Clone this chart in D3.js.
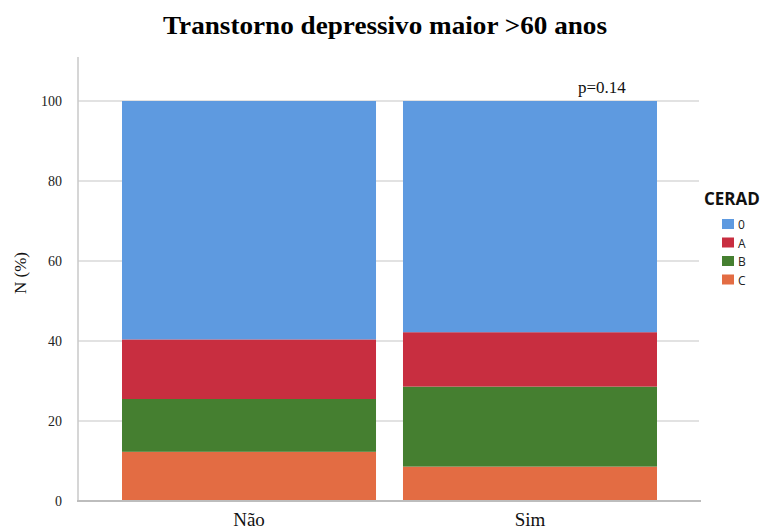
<!DOCTYPE html>
<html><head><meta charset="utf-8">
<script src="https://cdn.jsdelivr.net/npm/d3@7"></script>
<style>body{margin:0;background:#fff}</style>
</head><body>
<svg id="c" width="769" height="529"></svg>
<script>
const categories = ["Não", "Sim"];
const cerad = ["C", "B", "A", "0"];
const valuesC = [12.3, 8.6];
const valuesB = [13.2, 20.0];
const valuesA = [14.9, 13.6];
const values0 = [59.6, 57.8];
const yTicks = [0, 20, 40, 60, 80, 100];
const legendOrder = ["0", "A", "B", "C"];
const colors = {"0": "#5e9ae0", "A": "#c82e40", "B": "#457f30", "C": "#e36c43"};

const svg = d3.select("#c");
const y = d3.scaleLinear().domain([0, 110]).range([501, 61]);
const x = d3.scaleBand().domain(categories).range([122, 657]).paddingInner(0.096).paddingOuter(0);

// gridlines
svg.append("g").selectAll("line").data(yTicks.filter(d => d > 0)).join("line")
  .attr("x1", 78).attr("x2", 699).attr("y1", d => y(d)).attr("y2", d => y(d))
  .attr("stroke", "#d9d9d9").attr("stroke-width", 1.5);

const rows = categories.map((c, i) => ({cat: c, C: valuesC[i], B: valuesB[i], A: valuesA[i], "0": values0[i]}));
const stack = d3.stack().keys(cerad)(rows);
svg.append("g").selectAll("g").data(stack).join("g")
  .attr("fill", d => colors[d.key])
  .selectAll("rect").data(d => d).join("rect")
  .attr("x", d => x(d.data.cat)).attr("width", x.bandwidth())
  .attr("y", d => y(d[1])).attr("height", d => y(d[0]) - y(d[1]));

// axes lines
svg.append("line").attr("x1", 78).attr("x2", 78).attr("y1", 57).attr("y2", 501)
  .attr("stroke", "#c8c8c8").attr("stroke-width", 1.5);
svg.append("line").attr("x1", 77).attr("x2", 701).attr("y1", 501).attr("y2", 501)
  .attr("stroke", "#bdbdbd").attr("stroke-width", 2);

const yAxis = d3.axisLeft(y).tickValues(yTicks).tickSize(0).tickPadding(16);
const ga = svg.append("g").attr("transform", "translate(78,0)").call(yAxis);
ga.select(".domain").remove();
ga.selectAll("text").attr("font-family", "Liberation Serif").attr("font-size", 14).attr("fill", "#222");

const xAxis = d3.axisBottom(x).tickSize(0).tickPadding(12);
const gx = svg.append("g").attr("transform", "translate(0,501)").call(xAxis);
gx.select(".domain").remove();
gx.selectAll("text").attr("font-family", "Liberation Serif").attr("font-size", 19).attr("fill", "#111");

svg.append("text").attr("x", 385).attr("y", 34).attr("text-anchor", "middle")
  .attr("font-family", "Liberation Serif").attr("font-weight", "bold").attr("font-size", 25)
  .attr("textLength", 444).attr("lengthAdjust", "spacingAndGlyphs")
  .text("Transtorno depressivo maior >60 anos");

svg.append("text").attr("transform", "translate(26,273) rotate(-90)").attr("text-anchor", "middle")
  .attr("font-family", "Liberation Serif").attr("font-size", 17).attr("fill", "#111").text("N (%)");

svg.append("text").attr("x", 578).attr("y", 93)
  .attr("font-family", "Liberation Serif").attr("font-size", 17).attr("fill", "#111").text("p=0.14");

svg.append("text").attr("x", 704).attr("y", 205)
  .attr("font-family", "Open Sans").attr("font-weight", "bold").attr("font-size", 17).attr("fill", "#111").text("CERAD");

const lg = svg.append("g").selectAll("g").data(legendOrder).join("g")
  .attr("transform", (d, i) => `translate(722,${219 + i * 18.5})`);
lg.append("rect").attr("width", 12).attr("height", 10).attr("fill", d => colors[d]);
lg.append("text").attr("x", 16).attr("y", 10).attr("font-family", "Open Sans").attr("font-size", 12)
  .attr("fill", "#222").text(d => d);
</script>
</body></html>
